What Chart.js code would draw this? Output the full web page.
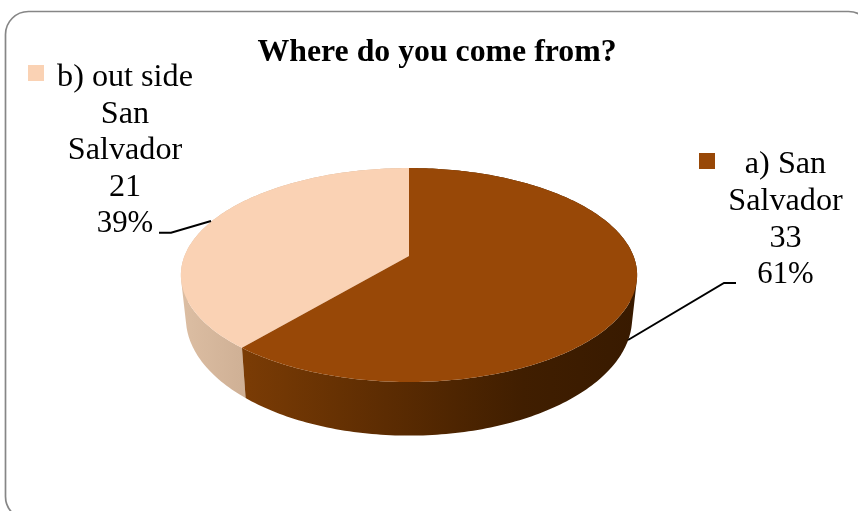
<!DOCTYPE html>
<html>
<head>
<meta charset="utf-8">
<title>Where do you come from?</title>
<script src="https://cdn.jsdelivr.net/npm/chart.js@4"></script>
<style>
    html, body { margin: 0; padding: 0; background: #fff; overflow: hidden; }
    canvas { display: block; }
</style>
</head>
<body>
<canvas id="originChart" width="858" height="511"></canvas>
<script>
const chartTitle = "Where do you come from?";
const categories = ["a) San Salvador", "b) out side San Salvador"];
const categoryLines = [["a) San", "Salvador"], ["b) out side", "San", "Salvador"]];
const counts = [33, 21];
const percents = ["61%", "39%"];
const sliceColors = ["#984807", "#FAD2B4"];

const FONT = '"Liberation Serif", "Times New Roman", serif';
const TITLE_FONT_SIZE = 31.8;
const FONT_SIZE = 32.2;
const PERCENT_FONT_SIZE = 30.8;

// perspective of the disc: far edge is squeezed, near edge is stretched
const TOP_FACE = { cx: 409, cy: 256, rx: 224.5, ry: 103.6 };
const BOTTOM_FACE = { cx: 409, cy: 297, rx: 219.6, ry: 114 };
const TILT = 0.1776;

function project(face, angle) {
    const x = Math.cos(angle);
    const y = Math.sin(angle);
    const w = 1 - TILT * y;
    return [face.cx + face.rx * x / w, face.cy + face.ry * y / w];
}

function traceArc(ctx, face, from, to) {
    const steps = Math.ceil(Math.abs(to - from) / (Math.PI / 180));
    for (let i = 0; i <= steps; i++) {
        const p = project(face, from + (to - from) * i / steps);
        ctx.lineTo(p[0], p[1]);
    }
}

function wallGradient(ctx, index) {
    const g = ctx.createLinearGradient(181, 0, 637, 0);
    if (index === 0) {
        g.addColorStop(0.13, "#7b3c05");
        g.addColorStop(0.45, "#5c2c02");
        g.addColorStop(0.75, "#401e00");
        g.addColorStop(1, "#381a00");
    } else {
        g.addColorStop(0, "#dcbea3");
        g.addColorStop(0.14, "#cfb095");
    }
    return g;
}

// side wall: quads in one path, all wound the same way so they fill without seams
function drawWall(ctx, arc, index) {
    const n = Math.ceil((arc.endAngle - arc.startAngle) / (Math.PI / 180));
    ctx.beginPath();
    for (let i = 0; i < n; i++) {
        const a = arc.startAngle + (arc.endAngle - arc.startAngle) * i / n;
        const b = arc.startAngle + (arc.endAngle - arc.startAngle) * (i + 1) / n;
        const quad = [project(TOP_FACE, a), project(TOP_FACE, b), project(BOTTOM_FACE, b), project(BOTTOM_FACE, a)];
        let area = 0;
        quad.forEach((p, k) => {
            const q = quad[(k + 1) % 4];
            area += p[0] * q[1] - q[0] * p[1];
        });
        if (area < 0) quad.reverse();
        quad.forEach((p, k) => k ? ctx.lineTo(p[0], p[1]) : ctx.moveTo(p[0], p[1]));
        ctx.closePath();
    }
    ctx.fillStyle = wallGradient(ctx, index);
    ctx.fill();
}

// draws the slices from the angles computed by the pie controller
const pie3d = {
    id: "pie3d",
    beforeDatasetsDraw(chart) {
        const ctx = chart.ctx;
        const arcs = chart.getDatasetMeta(0).data;
        ctx.save();
        for (let i = arcs.length - 1; i >= 0; i--) {
            drawWall(ctx, arcs[i], i);
        }
        for (let i = arcs.length - 1; i >= 0; i--) {
            ctx.beginPath();
            ctx.moveTo(TOP_FACE.cx, TOP_FACE.cy);
            traceArc(ctx, TOP_FACE, arcs[i].startAngle, arcs[i].endAngle);
            ctx.closePath();
            ctx.fillStyle = arcs[i].options.backgroundColor;
            ctx.fill();
        }
        ctx.restore();
        return false;
    }
};

const LABEL_BOXES = [
    { x: 785.5, baselines: [172.7, 210, 246.7, 282.7], swatch: [699, 153], leader: [[736, 283], [724, 283], [628, 340]] },
    { x: 125, baselines: [86.3, 123.3, 159, 195.7, 232.3], swatch: [28, 65], leader: [[159, 232.7], [171, 232.7], [211, 221]] }
];

const frameAndLabels = {
    id: "frameAndLabels",
    beforeDraw(chart) {
        const ctx = chart.ctx;
        ctx.save();
        ctx.fillStyle = "#fff";
        ctx.fillRect(0, 0, chart.width, chart.height);
        ctx.beginPath();
        ctx.roundRect(5.5, 11.5, 866, 508, 23);
        ctx.strokeStyle = "#868686";
        ctx.lineWidth = 1.7;
        ctx.stroke();
        ctx.restore();
    },
    afterDraw(chart) {
        const ctx = chart.ctx;
        ctx.save();
        ctx.fillStyle = "#000";
        ctx.textAlign = "center";
        ctx.textBaseline = "alphabetic";
        ctx.font = "bold " + TITLE_FONT_SIZE + "px " + FONT;
        ctx.fillText(chartTitle, 437, 61);

        LABEL_BOXES.forEach((box, i) => {
            const lines = categoryLines[i].concat([String(counts[i])]);
            ctx.fillStyle = "#000";
            ctx.font = FONT_SIZE + "px " + FONT;
            lines.forEach((line, n) => ctx.fillText(line, box.x, box.baselines[n]));
            ctx.font = PERCENT_FONT_SIZE + "px " + FONT;
            ctx.fillText(percents[i], box.x, box.baselines[lines.length]);

            ctx.fillStyle = sliceColors[i];
            ctx.fillRect(box.swatch[0], box.swatch[1], 16, 16);

            ctx.beginPath();
            box.leader.forEach((p, n) => n ? ctx.lineTo(p[0], p[1]) : ctx.moveTo(p[0], p[1]));
            ctx.strokeStyle = "#000";
            ctx.lineWidth = 2;
            ctx.stroke();
        });
        ctx.restore();
    }
};

new Chart(document.getElementById("originChart").getContext("2d"), {
    type: "pie",
    data: {
        labels: categories,
        datasets: [{
            data: counts,
            backgroundColor: sliceColors,
            borderWidth: 0
        }]
    },
    options: {
        responsive: false,
        animation: false,
        plugins: {
            legend: { display: false },
            title: { display: false },
            tooltip: { enabled: false }
        }
    },
    plugins: [frameAndLabels, pie3d]
});
</script>
</body>
</html>
